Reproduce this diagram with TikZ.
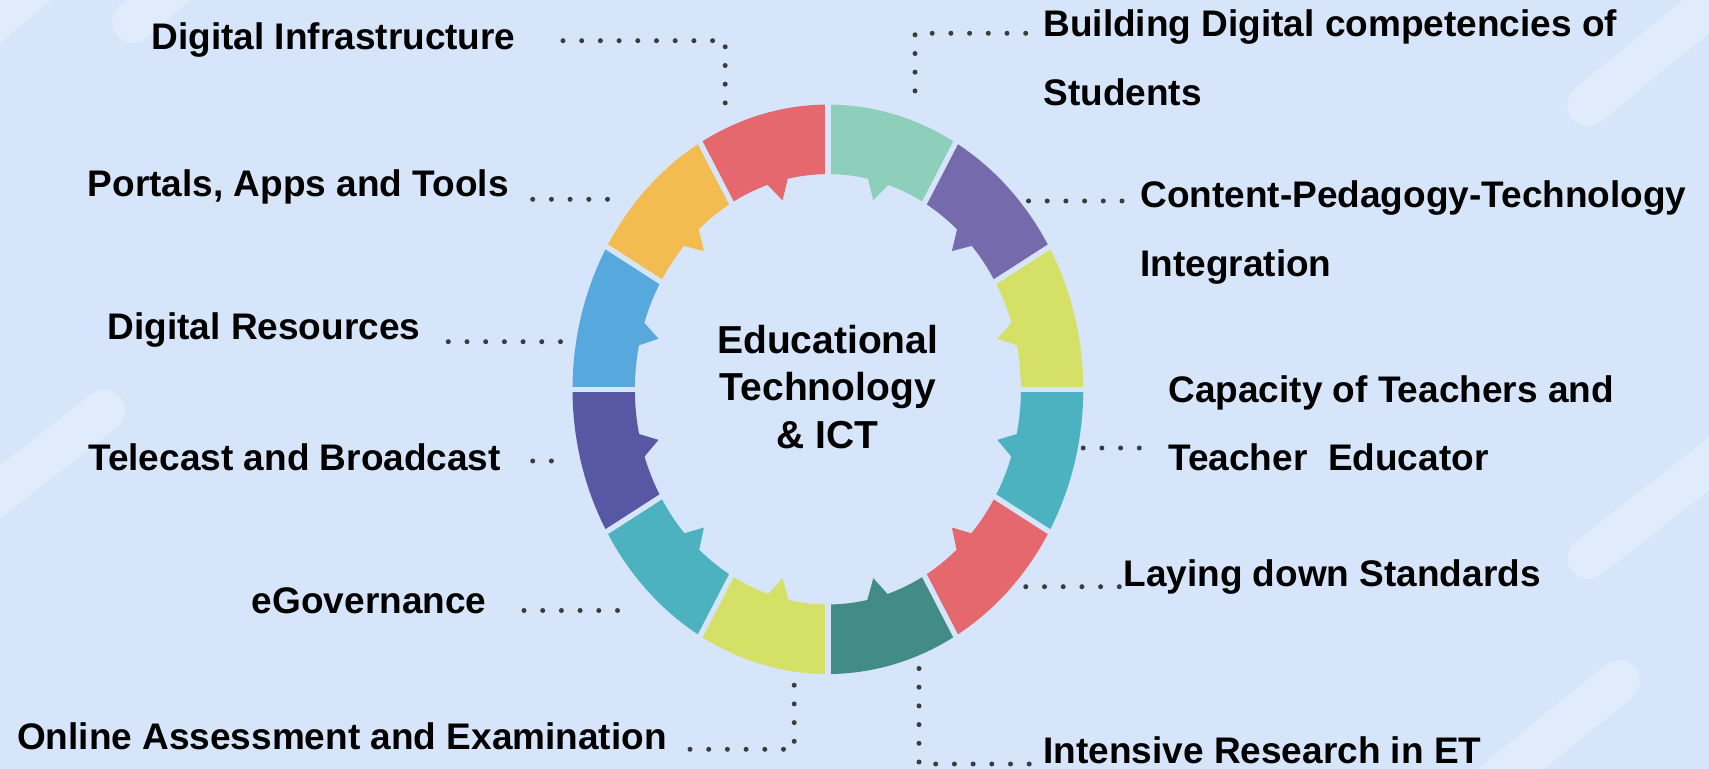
\documentclass[tikz,border=0pt]{standalone}
\usepackage{fontspec}
\setmainfont{Liberation Sans}
\definecolor{bgc}{RGB}{214,229,250}
\definecolor{stripec}{RGB}{224,236,252}
\definecolor{dotc}{RGB}{60,60,62}
\definecolor{cred}{RGB}{228,104,110}
\definecolor{cmint}{RGB}{141,207,186}
\definecolor{cpurple}{RGB}{117,106,172}
\definecolor{cyellow}{RGB}{213,224,102}
\definecolor{cteal}{RGB}{76,178,192}
\definecolor{cdteal}{RGB}{66,139,134}
\definecolor{cdpurple}{RGB}{88,87,164}
\definecolor{cblue}{RGB}{87,168,220}
\definecolor{corange}{RGB}{242,188,80}
\begin{document}
\begin{tikzpicture}[x=0.5pt,y=-0.5pt,
  lab/.style={font=\fontsize{18.5}{22}\selectfont\bfseries, inner sep=0pt, text=black},
  ctr/.style={font=\fontsize{19.5}{24}\selectfont\bfseries, inner sep=0pt, anchor=base, text=black},
  dotline/.style={draw=dotc, line width=2.5pt, line cap=round, dash pattern=on 0pt off 9.35pt},
  stripe/.style={draw=stripec, line width=21pt, line cap=round},
  gap/.style={draw=bgc, line width=2.7pt}]
\useasboundingbox (0,0) rectangle (1709,769);
\fill[bgc] (0,0) rectangle (1709,769);
% background stripes
\begin{scope}
\clip (0,0) rectangle (1709,769);
\fill[stripec] (0,0) -- (51.7,0) -- (0,43.3) -- cycle;
\draw[stripe] (133,22) -- (210,-45);
\draw[stripe] (1588,105) -- (1743,-22);
\draw[stripe] (104,411) -- (-54,534);
\draw[stripe] (1588.5,558) -- (1760,424);
\draw[stripe] (1619,681) -- (1450,818);
\end{scope}
% ring
\begin{scope}[shift={(827.9,389.3)}, xscale=0.897, yscale=-1]
 \def\Ro{284.7}\def\Ri{215.2}\def\Rt{195.5}
 \foreach \U/\c in {90/cmint,60/cpurple,30/cyellow,0/cteal,-30/cred,-60/cdteal}{
   \fill[\c] (\U-30:\Ro) arc[start angle=\U-30, end angle=\U, radius=\Ro]
     -- (\U:\Ri) arc[start angle=\U, end angle=\U-12, radius=\Ri]
     -- (\U-15:\Rt) -- (\U-18.2:\Ri)
     arc[start angle=\U-18.2, end angle=\U-30, radius=\Ri] -- cycle;
 }
 \foreach \U/\c in {90/cred,120/corange,150/cblue,180/cdpurple,210/cteal,240/cyellow}{
   \fill[\c] (\U:\Ro) arc[start angle=\U, end angle=\U+30, radius=\Ro]
     -- (\U+30:\Ri) arc[start angle=\U+30, end angle=\U+18.2, radius=\Ri]
     -- (\U+15:\Rt) -- (\U+12:\Ri)
     arc[start angle=\U+12, end angle=\U, radius=\Ri] -- cycle;
 }
 \foreach \a in {0,30,...,330} \draw[gap] (\a:200) -- (\a:296);
\end{scope}
% centre text
\node[ctr] (t1) at (827.7,353.3) {Educational};
\node[ctr] (t2) at (827.7,400.7) {Technology};
\node[ctr] (t3) at (827.7,448.6) {\& ICT};
% labels left
\node[lab, anchor=base east] (l1) at (515.9,50) {Digital Infrastructure};
\node[lab, anchor=base east] (l2) at (509,196.7) {Portals, Apps and Tools};
\node[lab, anchor=base east] (l3) at (420.7,340) {Digital Resources};
\node[lab, anchor=base east] (l4) at (501.3,470.5) {Telecast and Broadcast};
\node[lab, anchor=base east] (l5) at (486.8,613.3) {eGovernance};
\node[lab, anchor=base east] (l6) at (667.2,749.3) {Online Assessment and Examination};
% labels right
\node[lab, anchor=base west] (r1a) at (1043,36.7) {Building Digital competencies of};
\node[lab, anchor=base west] (r1b) at (1043,106) {Students};
\node[lab, anchor=base west] (r2a) at (1140,207.5) {Content-Pedagogy-Technology};
\node[lab, anchor=base west] (r2b) at (1140,276.5) {Integration};
\node[lab, anchor=base west] (r3a) at (1168,402.5) {Capacity of Teachers and};
\node[lab, anchor=base west] (r3b) at (1168,470.5) {Teacher~~Educator};
\node[lab, anchor=base west] (r4) at (1123,586.7) {Laying down Standards};
\node[lab, anchor=base west] (r5) at (1043,763.3) {Intensive Research in ET};
% connector coordinates
\coordinate (d1a) at (563,40.7); \coordinate (d1b) at (725.2,40.7); \coordinate (d1c) at (725.2,116.3);
\coordinate (d2a) at (532.7,199.3); \coordinate (d2b) at (626,199.3);
\coordinate (d3a) at (448.3,341.7); \coordinate (d3b) at (560.7,341.7);
\coordinate (d4a) at (532.7,461); \coordinate (d4b) at (570,461);
\coordinate (d5a) at (524,610.5); \coordinate (d5b) at (636,610.5);
\coordinate (d6a) at (690,749.3); \coordinate (d6b) at (794.2,749.3); \coordinate (d6c) at (794.2,680);
\coordinate (e1a) at (1025.7,33.3); \coordinate (e1b) at (915,33.3); \coordinate (e1c) at (915,109.3);
\coordinate (e2a) at (1122,201); \coordinate (e2b) at (1028.3,201);
\coordinate (e3a) at (1139.3,448); \coordinate (e3b) at (1082.7,448);
\coordinate (e4a) at (1119.3,586.7); \coordinate (e4b) at (1025,586.7);
\coordinate (e5a) at (1029.2,764); \coordinate (e5b) at (919,764); \coordinate (e5c) at (919,661.7);
% connectors
\draw[dotline] (d1a) -- (d1b) -- (d1c);
\draw[dotline] (d2a) -- (d2b);
\draw[dotline] (d3a) -- (d3b);
\draw[dotline] (d4a) -- (d4b);
\draw[dotline] (d5a) -- (d5b);
\draw[dotline] (d6a) -- (d6b) -- (d6c);
\draw[dotline] (e1a) -- (e1b) -- (e1c);
\draw[dotline] (e2a) -- (e2b);
\draw[dotline] (e3a) -- (e3b);
\draw[dotline] (e4a) -- (e4b);
\draw[dotline] (e5a) -- (e5b) -- (e5c);
\end{tikzpicture}
\end{document}
